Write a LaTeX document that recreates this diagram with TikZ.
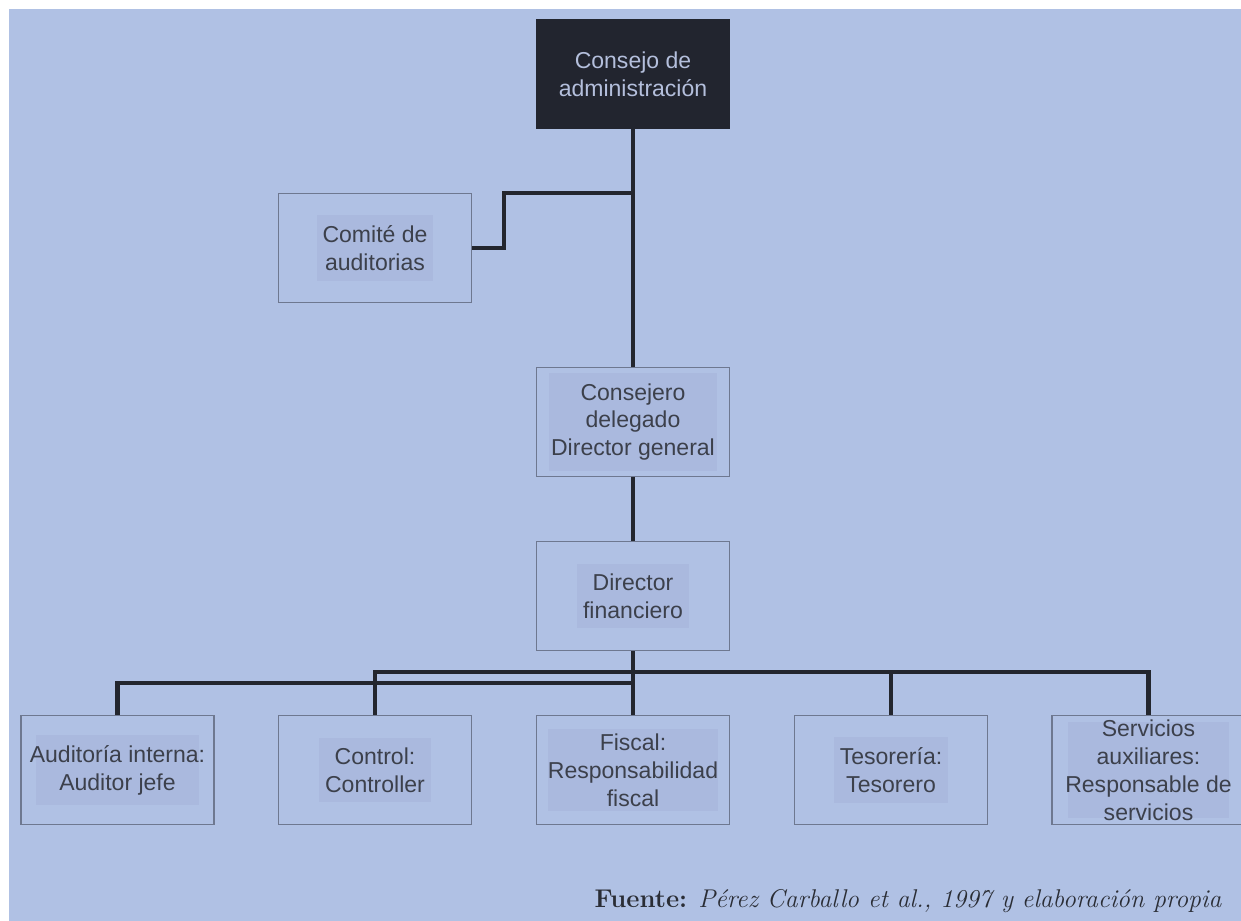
\documentclass[tikz,border=0pt]{standalone}
\usepackage{fontspec}
\setsansfont{Liberation Sans}
\definecolor{fondo}{HTML}{B0C1E4}
\definecolor{borde}{HTML}{6E7890}
\definecolor{linea}{HTML}{23262E}
\definecolor{oscuro}{HTML}{22252F}
\definecolor{claro}{HTML}{B4BFDC}
\definecolor{resalte}{HTML}{AAB9DE}
\definecolor{texto}{HTML}{3C404B}
\definecolor{pie}{HTML}{2A2D35}
\begin{document}
\begin{tikzpicture}
        \tikzset{caja/.style = {draw=borde, line width=1.1pt, minimum width=3.86cm, minimum height=2.18cm},
                 rotulo/.style = {fill=resalte, text=texto, align=center, inner xsep=0.12cm, inner ysep=0.2cm,
                                  font=\sffamily\fontsize{13.1}{15.9}\selectfont},
                 enlace/.style = {draw=linea, line width=2.3pt}};
        \useasboundingbox (0,0) rectangle (24.82,-18.42);
        \fill[fondo] (0.18,-0.18) rectangle (24.82,-18.42);
        \node[caja, fill=oscuro, draw=oscuro] (consejo) at (12.66,-1.48) {};
        \node[rotulo, fill=oscuro, text=claro] (consejo-t) at (consejo) {Consejo de\\administración};
        \node[caja] (comite) at (7.5,-4.96) {};
        \node[rotulo] (comite-t) at (comite) {Comité de\\auditorias};
        \node[caja] (consejero) at (12.66,-8.44) {};
        \node[rotulo, inner xsep=0.05cm] (consejero-t) at (consejero) {Consejero\\delegado\\Director general};
        \node[caja] (director) at (12.66,-11.92) {};
        \node[rotulo] (director-t) at (director) {Director\\financiero};
        \node[caja] (auditoria) at (2.35,-15.4) {};
        \node[rotulo, inner xsep=-0.12cm] (auditoria-t) at (auditoria) {Auditoría interna:\\Auditor jefe};
        \node[caja] (control) at (7.5,-15.4) {};
        \node[rotulo] (control-t) at (control) {Control:\\Controller};
        \node[caja] (fiscal) at (12.66,-15.4) {};
        \node[rotulo, inner xsep=0cm, inner ysep=0.1cm] (fiscal-t) at (fiscal) {Fiscal:\\Responsabilidad\\fiscal};
        \node[caja] (tesoreria) at (17.82,-15.4) {};
        \node[rotulo] (tesoreria-t) at (tesoreria) {Tesorería:\\Tesorero};
        \node[caja] (servicios) at (22.97,-15.4) {};
        \node[rotulo, inner xsep=-0.05cm, inner ysep=-0.05cm] (servicios-t) at (servicios) {Servicios\\auxiliares:\\Responsable de\\servicios};
        \coordinate (cruce) at (12.66,-3.86);
        \coordinate (barraA) at (12.66,-13.44);
        \coordinate (barraB) at (12.66,-13.66);
        \draw[enlace] (consejo) -- (consejero);
        \draw[enlace] (comite.east) -- ++(0.64,0) |- (cruce);
        \draw[enlace] (consejero) -- (director);
        \draw[enlace] (director) -- (fiscal);
        \draw[enlace] (control.north) |- (barraA) -| (servicios.north);
        \draw[enlace] (tesoreria.north) -- (tesoreria.north |- barraA);
        \draw[enlace] (auditoria.north) |- (barraB);
        \node[anchor=base east, text=pie, font=\fontsize{14.6}{17}\selectfont] (fuente) at (24.56,-18.14)
             {\textbf{Fuente:} \textit{Pérez Carballo et al., 1997 y elaboración propia}};
    \end{tikzpicture}
\end{document}
